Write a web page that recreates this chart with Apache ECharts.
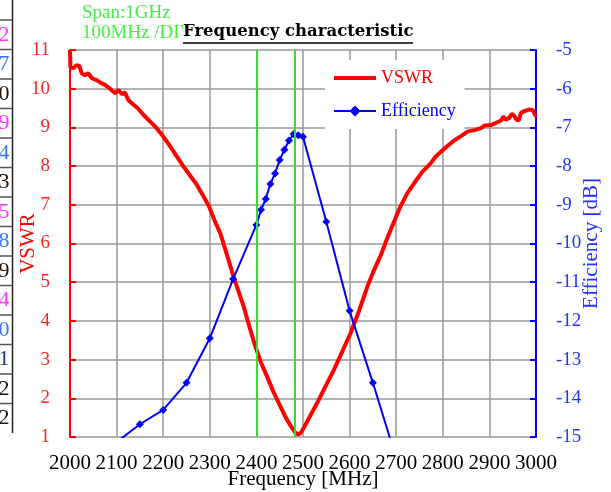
<!DOCTYPE html>
<html><head><meta charset="utf-8">
<script src="https://cdn.jsdelivr.net/npm/echarts@6/dist/echarts.min.js"></script>
<style>html,body{margin:0;padding:0;background:#fff}#c{width:611px;height:492px}</style>
</head><body><div id="c"></div>
<script>
// ---- data ----
const vswrFreq = [2000,2001,2007,2014,2020,2025,2032,2039,2047,2057,2066,2075,2086,2097,2104,2111,2118,2125,2135,2145,2158,2172,2186,2198,2208,2220,2232,2244,2258,2272,2285,2298,2310,2323,2337,2351,2362,2373,2385,2398,2410,2423,2437,2452,2463,2473,2483,2490,2496,2509,2520,2530,2548,2566,2584,2602,2620,2638,2652,2667,2678,2688,2700,2710,2724,2738,2756,2774,2785,2796,2810,2825,2840,2853,2868,2882,2890,2903,2915,2925,2930,2935,2942,2948,2953,2958,2963,2968,2975,2985,2993,3000];
const vswrVal  = [11.0,10.55,10.53,10.61,10.59,10.4,10.35,10.4,10.27,10.22,10.15,10.1,10.0,9.88,9.97,9.86,9.9,9.71,9.6,9.5,9.32,9.15,8.98,8.8,8.63,8.42,8.2,7.98,7.75,7.52,7.25,6.97,6.6,6.25,5.7,5.14,4.75,4.36,3.85,3.33,2.92,2.56,2.15,1.78,1.5,1.3,1.12,1.06,1.12,1.4,1.65,1.87,2.3,2.73,3.2,3.68,4.25,4.88,5.3,5.7,6.05,6.35,6.7,6.98,7.3,7.55,7.85,8.07,8.25,8.37,8.52,8.67,8.78,8.89,8.93,8.98,9.05,9.06,9.12,9.18,9.28,9.2,9.24,9.35,9.3,9.2,9.18,9.38,9.42,9.46,9.45,9.28];
const effFreq = [2100,2150,2200,2250,2300,2350,2400,2410,2420,2430,2440,2450,2460,2470,2480,2490,2500,2550,2600,2650,2700];
const effVal  = [-15.13,-14.67,-14.3,-13.6,-12.45,-10.92,-9.52,-9.13,-8.85,-8.46,-8.19,-7.84,-7.58,-7.34,-7.17,-7.2,-7.24,-9.44,-11.74,-13.6,-15.55];
const markerFreqs = [2400, 2483];
const seriesNames = ['VSWR', 'Efficiency'];
const titleText = 'Frequency characteristic';
const noteLines = ['Span:1GHz', '100MHz /DIV'];
const xAxisName = 'Frequency [MHz]';
const yLeftName = 'VSWR';
const yRightName = 'Efficiency [dB]';
const tableDigits = ['2','7','0','9','4','3','5','8','9','4','0','1','2','2'];
const tableColors = ['#ff33ff','#3377ff','#221100','#ff33ff','#3377ff','#221100','#ff33ff','#3377ff','#221100','#ff33ff','#3377ff','#223388','#111111','#111111'];

// ---- chart ----
const FF = '"Liberation Serif","Times New Roman",serif';
const chart = echarts.init(document.getElementById('c'), null, {renderer:'canvas'});

const graphics = [];
// cut-off table on the far left
const rowH = 29.5, tableTop = 20;
graphics.push({type:'line', shape:{x1:12.5,y1:0,x2:12.5,y2:tableTop+rowH*tableDigits.length}, style:{stroke:'#222',lineWidth:1.5}});
for (let i=0;i<tableDigits.length;i++){
  const y = tableTop + i*rowH;
  graphics.push({type:'line', shape:{x1:0,y1:y,x2:12.5,y2:y}, style:{stroke:'#555',lineWidth:1.5}});
  graphics.push({type:'text', x:9.5, y:y+rowH/2, style:{text:tableDigits[i], fill:tableColors[i], fontSize:22, fontFamily:FF, align:'right', verticalAlign:'middle'}});
}
// notes
graphics.push({type:'text', x:82, y:13, style:{text:noteLines[0], fill:'#44ee44', fontSize:19, fontFamily:FF, verticalAlign:'middle'}});
graphics.push({type:'text', x:82, y:33, style:{text:noteLines[1], fill:'#44ee44', fontSize:19, fontFamily:FF, verticalAlign:'middle'}});
// title with underline
graphics.push({type:'text', x:183, y:32, z:10, style:{text:titleText, fill:'#000', fontSize:16.5, fontWeight:'bold', fontFamily:'"DejaVu Serif",serif', verticalAlign:'middle', backgroundColor:'#fff'}});
graphics.push({type:'line', z:10, shape:{x1:183,y1:43,x2:413,y2:43}, style:{stroke:'#000',lineWidth:1.5}});

chart.setOption({
  animation:false,
  backgroundColor:'#fff',
  grid:{left:70, right:75, top:50, bottom:55, containLabel:false, outerBoundsMode:'none'},
  graphic:graphics,
  legend:{
    left:325, top:60, orient:'vertical', backgroundColor:'#fff',
    padding:[9,9,9,7], itemWidth:42, itemHeight:14, itemGap:15,
    textStyle:{fontFamily:FF, fontSize:18},
    data:[
      {name:seriesNames[0], textStyle:{color:'#ff0000'},
       itemStyle:{color:'rgba(0,0,0,0)', borderColor:'rgba(0,0,0,0)', borderWidth:0},
       lineStyle:{color:'#ff0000', width:4}},
      {name:seriesNames[1], textStyle:{color:'#0000ff'}}
    ]
  },
  xAxis:{
    type:'value', min:2000, max:3000, interval:100,
    axisLine:{show:false}, axisTick:{show:false},
    splitLine:{show:true, lineStyle:{color:'#999999', width:1.5}},
    axisLabel:{color:'#000', fontSize:21, fontFamily:FF, margin:16, showMinLabel:true, showMaxLabel:true, hideOverlap:false, formatter:v=>String(v)},
    name:xAxisName, nameLocation:'middle', nameGap:32, nameMoveOverlap:false,
    nameTextStyle:{color:'#000', fontSize:21, fontFamily:FF}
  },
  yAxis:[{
    type:'value', min:1, max:11, interval:1, position:'left',
    axisLine:{show:true, lineStyle:{color:'#ff0000', width:2}},
    axisTick:{show:true, inside:true, length:6, lineStyle:{color:'#ff0000', width:2}},
    splitLine:{show:true, lineStyle:{color:'#999999', width:1.5}},
    axisLabel:{color:'#ff2222', fontSize:19, fontFamily:FF, margin:20, showMinLabel:true, showMaxLabel:true},
    name:yLeftName, nameLocation:'middle', nameRotate:90, nameGap:31, nameMoveOverlap:false,
    nameTextStyle:{color:'#ff0000', fontSize:21, fontFamily:FF}
  },{
    type:'value', min:-15, max:-5, interval:1, position:'right',
    axisLine:{show:true, lineStyle:{color:'#0000ff', width:2}},
    axisTick:{show:true, inside:true, length:6, lineStyle:{color:'#0000ff', width:2}},
    splitLine:{show:false},
    axisLabel:{color:'#2233ff', fontSize:19, fontFamily:FF, margin:20, showMinLabel:true, showMaxLabel:true},
    name:yRightName, nameLocation:'middle', nameRotate:90, nameGap:45, nameMoveOverlap:false,
    nameTextStyle:{color:'#2233ff', fontSize:21, fontFamily:FF}
  }],
  series:[{
    name:seriesNames[0], type:'line', yAxisIndex:0, z:3,
    data:vswrFreq.map((f,i)=>[f, vswrVal[i]]),
    showSymbol:false, symbol:'none',
    lineStyle:{color:'#ff0000', width:4}, itemStyle:{color:'#ff0000'},
    markLine:{silent:true, symbol:'none', label:{show:false},
      lineStyle:{color:'#33dd33', width:2, type:'solid'},
      data:markerFreqs.map(f=>({xAxis:f}))}
  },{
    name:seriesNames[1], type:'line', yAxisIndex:1, z:4,
    data:effFreq.map((f,i)=>[f, effVal[i]]),
    symbol:'diamond', symbolSize:8,
    lineStyle:{color:'#0000ff', width:2}, itemStyle:{color:'#0000ff'}
  }]
});
</script></body></html>
